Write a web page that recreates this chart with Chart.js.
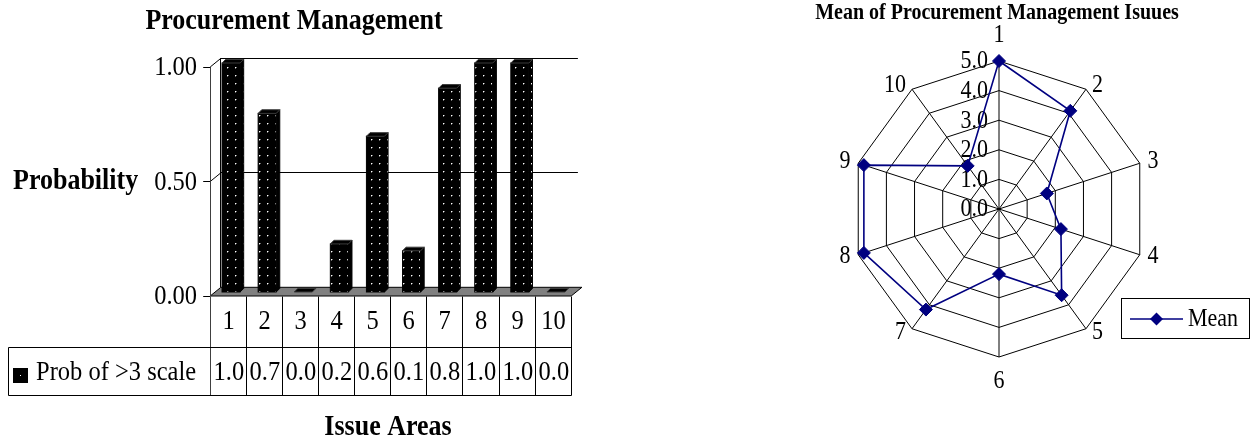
<!DOCTYPE html>
<html>
<head>
<meta charset="utf-8">
<title>Procurement Management</title>
<script src="https://cdn.jsdelivr.net/npm/chart.js@4.4.1/dist/chart.umd.min.js"></script>
<style>
  html, body { margin: 0; padding: 0; background: #fff; overflow: hidden; }
  #wrap { position: relative; width: 1255px; height: 441px; }
  #barBox { position: absolute; left: 0; top: 0; width: 600px; height: 441px; }
  #radarBox { position: absolute; left: 600px; top: 0; width: 655px; height: 441px; }
  canvas { display: block; }
</style>
</head>
<body>
<div id="wrap">
  <div id="barBox"><canvas id="bar" width="600" height="441"></canvas></div>
  <div id="radarBox"><canvas id="radar" width="655" height="441"></canvas></div>
</div>
<script>
// ---- data ----
const issueAreas = ['1', '2', '3', '4', '5', '6', '7', '8', '9', '10'];
const probSeriesLabel = 'Prob of >3 scale';
const probAbove3 = [1.00, 0.78, 0.00, 0.21, 0.68, 0.18, 0.89, 1.00, 1.00, 0.00];
const probTicks = [0, 0.5, 1];
const meanSeriesLabel = 'Mean';
const meanScores = [5.0, 4.1, 1.7, 2.2, 3.6, 2.2, 4.2, 4.8, 4.8, 1.8];
const meanTicks = [0, 1, 2, 3, 4, 5];

const barTitle = 'Procurement Management';
const barYTitle = 'Probability';
const barXTitle = 'Issue Areas';
const radarTitle = 'Mean of Procurement Management Isuues';

// ---- shared styling ----
const SERIF = "'Liberation Serif', 'Times New Roman', serif";
Chart.defaults.font.family = SERIF;
Chart.defaults.color = '#000';
const TEXT_STRETCH = 1.12;   // glyphs are drawn slightly taller than wide

const crisp = v => Math.round(v - 0.5) + 0.5;

function seg(ctx, x1, y1, x2, y2, color) {
  ctx.beginPath();
  ctx.moveTo(x1, y1);
  ctx.lineTo(x2, y2);
  ctx.strokeStyle = color || '#000';
  ctx.lineWidth = 1;
  ctx.stroke();
}

// text with a vertical stretch around its (x, y) anchor
function tallText(ctx, text, x, y) {
  ctx.save();
  ctx.translate(x, y);
  ctx.scale(1, TEXT_STRETCH);
  ctx.fillText(text, 0, 0);
  ctx.restore();
}

// dotted black fill used by the 3-D columns
function makeDotPattern(ctx) {
  const tile = document.createElement('canvas');
  tile.width = 8; tile.height = 8;
  const g = tile.getContext('2d');
  g.fillStyle = '#000';
  g.fillRect(0, 0, 8, 8);
  g.fillStyle = '#6a6a6a';
  g.fillRect(4, 3, 1, 1);
  g.fillRect(3, 4, 1, 1);
  g.fillStyle = '#ffffff';
  g.fillRect(3, 3, 1, 1);
  return ctx.createPattern(tile, 'repeat');
}

// ---- 3-D column chart with data table ----
const barCanvas = document.getElementById('bar');
const barCtx = barCanvas.getContext('2d');
const dots = makeDotPattern(barCtx);

// depth offsets of the front plane, back wall and column sides
const FRONT = { dx: -2.8, dy: 4 };
const BACK = { dx: 7.9, dy: -4.7 };
const COL_DEPTH = 3.6;

const barDecor = {
  id: 'barDecor',
  beforeDatasetsDraw(chart) {
    const { ctx, chartArea: a, scales: { y } } = chart;
    const fy = v => y.getPixelForValue(v) + FRONT.dy;
    const by = v => y.getPixelForValue(v) + BACK.dy;
    const fx0 = a.left + FRONT.dx, fx1 = a.right + FRONT.dx;
    const bx0 = a.left + BACK.dx, bx1 = a.right + BACK.dx;
    const top = probTicks[probTicks.length - 1];
    ctx.save();

    // floor
    ctx.beginPath();
    ctx.moveTo(fx0, fy(0));
    ctx.lineTo(fx1, fy(0));
    ctx.lineTo(bx1, by(0));
    ctx.lineTo(bx0, by(0));
    ctx.closePath();
    ctx.fillStyle = '#808080';
    ctx.fill();
    ctx.strokeStyle = '#000';
    ctx.lineWidth = 1;
    ctx.stroke();

    // back wall gridlines and the side-wall diagonals
    probTicks.forEach(v => {
      if (v > 0) {
        seg(ctx, bx0, crisp(by(v)), bx1 - 4, crisp(by(v)));
        seg(ctx, fx0, fy(v), bx0, by(v));
      }
    });
    seg(ctx, crisp(bx0), by(top), crisp(bx0), by(0), '#000');

    // value axis, tick marks and tick labels
    seg(ctx, crisp(fx0), fy(top), crisp(fx0), fy(0), '#404040');
    ctx.font = `24.5px ${SERIF}`;
    ctx.fillStyle = '#000';
    ctx.textAlign = 'right';
    ctx.textBaseline = 'middle';
    probTicks.forEach(v => {
      seg(ctx, fx0 - 7, crisp(fy(v)), fx0, crisp(fy(v)));
      tallText(ctx, v.toFixed(2), 197, fy(v) + 1);
    });
    ctx.restore();
  },
  afterDatasetsDraw(chart) {
    const { ctx, chartArea: a, scales: { y } } = chart;
    const meta = chart.getDatasetMeta(0);
    const d = COL_DEPTH;
    ctx.save();

    // column sides and tops
    meta.data.forEach(el => {
      const { x: cx, y: ty, base, width } = el.getProps(['x', 'y', 'base', 'width'], true);
      const l = cx - width / 2, r = cx + width / 2;
      if (base - ty > 0.5) {
        ctx.beginPath();
        ctx.moveTo(r, ty);
        ctx.lineTo(r + d, ty - d);
        ctx.lineTo(r + d, base - d);
        ctx.lineTo(r, base);
        ctx.closePath();
        ctx.fillStyle = dots;
        ctx.fill();
        ctx.strokeStyle = '#000';
        ctx.lineWidth = 1;
        ctx.stroke();
        ctx.strokeRect(l, ty, width, base - ty);
      }
      ctx.beginPath();
      ctx.moveTo(l, ty);
      ctx.lineTo(l + d, ty - d);
      ctx.lineTo(r + d, ty - d);
      ctx.lineTo(r, ty);
      ctx.closePath();
      ctx.fillStyle = '#000';
      ctx.fill();
      ctx.strokeStyle = '#3a3a3a';
      ctx.lineWidth = 1;
      ctx.stroke();
    });

    // data table under the floor
    const fx0 = a.left + FRONT.dx;
    const cw = (a.right - a.left) / issueAreas.length;
    const rowTop = crisp(y.getPixelForValue(0) + FRONT.dy);
    const rowMid = 347.5, rowBot = 395.5, tableLeft = 8.5;
    const colX = i => crisp(fx0 + i * cw);
    const tableRight = colX(issueAreas.length);

    for (let i = 0; i <= issueAreas.length; i++) {
      seg(ctx, colX(i), rowTop, colX(i), rowBot, i === 0 ? '#404040' : '#000');
    }
    seg(ctx, tableLeft, rowMid, tableRight, rowMid);
    seg(ctx, tableLeft, rowBot, tableRight, rowBot);
    seg(ctx, tableLeft, rowMid, tableLeft, rowBot);

    ctx.fillStyle = '#000';
    ctx.font = `24.5px ${SERIF}`;
    ctx.textBaseline = 'middle';
    issueAreas.forEach((lab, i) => {
      ctx.textAlign = 'center';
      tallText(ctx, lab, (colX(i) + colX(i + 1)) / 2, (rowTop + rowMid) / 2);
      // values are left aligned and clipped by their cell
      ctx.save();
      ctx.beginPath();
      ctx.rect(colX(i) + 0.5, rowMid, cw - 3, rowBot - rowMid);
      ctx.clip();
      ctx.textAlign = 'left';
      tallText(ctx, probAbove3[i].toFixed(2), colX(i) + 3, (rowMid + rowBot) / 2 + 1);
      ctx.restore();
    });

    // legend key inside the table
    ctx.fillStyle = '#000';
    ctx.fillRect(13, 368, 15, 15);
    ctx.fillStyle = '#fff';
    ctx.fillRect(20, 375, 1, 1);
    ctx.strokeStyle = '#000';
    ctx.strokeRect(13.5, 368.5, 14, 14);
    ctx.fillStyle = '#000';
    ctx.textAlign = 'left';
    tallText(ctx, probSeriesLabel, 36, (rowMid + rowBot) / 2 + 1);

    // titles
    ctx.font = `bold 26px ${SERIF}`;
    ctx.textAlign = 'center';
    tallText(ctx, barTitle, 294, 21);
    tallText(ctx, barXTitle, 388, 427);
    ctx.textAlign = 'left';
    tallText(ctx, barYTitle, 13, 181);
    ctx.restore();
  }
};

new Chart(barCtx, {
  type: 'bar',
  data: {
    labels: issueAreas,
    datasets: [{
      label: probSeriesLabel,
      data: probAbove3,
      backgroundColor: dots,
      borderWidth: 0,
      barPercentage: 0.5,
      categoryPercentage: 1.0,
      clip: false
    }]
  },
  options: {
    responsive: false,
    devicePixelRatio: 1,
    animation: false,
    events: [],
    layout: { padding: { left: 213, right: 26, top: 63, bottom: 149 } },
    plugins: { legend: { display: false }, tooltip: { enabled: false }, title: { display: false } },
    scales: {
      x: { type: 'category', display: false, offset: true },
      y: { display: false, min: 0, max: 1 }
    }
  },
  plugins: [barDecor]
});

// ---- radar chart ----
const NAVY = '#000080';

const radarDecor = {
  id: 'radarDecor',
  beforeDatasetsDraw(chart) {
    const { ctx, scales: { r } } = chart;
    ctx.save();
    ctx.fillStyle = '#000';
    ctx.font = `22px ${SERIF}`;
    ctx.textAlign = 'right';
    ctx.textBaseline = 'middle';
    meanTicks.forEach(v => {
      const dist = r.getDistanceFromCenterForValue(v);
      tallText(ctx, v.toFixed(1), r.xCenter - 11, r.yCenter - dist + 1);
    });

    // category labels sit just outside each spoke
    issueAreas.forEach((lab, i) => {
      const ang = r.getIndexAngle(i);
      const s = Math.sin(ang);
      if (Math.abs(s) < 0.05) {
        const p = r.getPointPosition(i, r.drawingArea + 25);
        ctx.textAlign = 'center';
        tallText(ctx, lab, p.x, p.y);
      } else {
        const p = r.getPointPosition(i, r.drawingArea + 5);
        ctx.textAlign = s > 0 ? 'left' : 'right';
        tallText(ctx, lab, p.x + (s > 0 ? 3 : -3), p.y);
      }
    });
    ctx.restore();
  },
  afterDraw(chart) {
    const { ctx } = chart;
    ctx.save();
    ctx.fillStyle = '#000';
    ctx.font = `bold 20px ${SERIF}`;
    ctx.textAlign = 'center';
    ctx.textBaseline = 'middle';
    tallText(ctx, radarTitle, 397, 13);

    // legend
    const ds = chart.data.datasets[0];
    ctx.strokeStyle = '#000';
    ctx.lineWidth = 1;
    ctx.strokeRect(521.5, 298.5, 128, 40);
    ctx.beginPath();
    ctx.moveTo(530, 319);
    ctx.lineTo(583, 319);
    ctx.strokeStyle = ds.borderColor;
    ctx.lineWidth = ds.borderWidth;
    ctx.stroke();
    ctx.beginPath();
    const pr = ds.pointRadius;
    ctx.moveTo(556.5, 319 - pr);
    ctx.lineTo(556.5 + pr, 319);
    ctx.lineTo(556.5, 319 + pr);
    ctx.lineTo(556.5 - pr, 319);
    ctx.closePath();
    ctx.fillStyle = ds.pointBackgroundColor;
    ctx.fill();
    ctx.fillStyle = '#000';
    ctx.font = `22px ${SERIF}`;
    ctx.textAlign = 'left';
    tallText(ctx, ds.label, 588, 320);
    ctx.restore();
  }
};

new Chart(document.getElementById('radar'), {
  type: 'radar',
  data: {
    labels: issueAreas,
    datasets: [{
      label: meanSeriesLabel,
      data: meanScores,
      borderColor: NAVY,
      borderWidth: 1.6,
      backgroundColor: NAVY,
      fill: false,
      pointStyle: 'rectRot',
      pointRadius: 6.5,
      pointBackgroundColor: NAVY,
      pointBorderColor: NAVY,
      pointBorderWidth: 1,
      tension: 0
    }]
  },
  options: {
    responsive: false,
    devicePixelRatio: 1,
    animation: false,
    events: [],
    layout: { padding: { left: 251, right: 108, top: 61, bottom: 84 } },
    plugins: { legend: { display: false }, tooltip: { enabled: false }, title: { display: false } },
    scales: {
      r: {
        min: 0,
        max: 5,
        beginAtZero: true,
        ticks: { display: false, stepSize: 1 },
        pointLabels: { display: false },
        grid: { color: '#000', lineWidth: 1 },
        angleLines: { color: '#000', lineWidth: 1 }
      }
    }
  },
  plugins: [radarDecor]
});
</script>
</body>
</html>
